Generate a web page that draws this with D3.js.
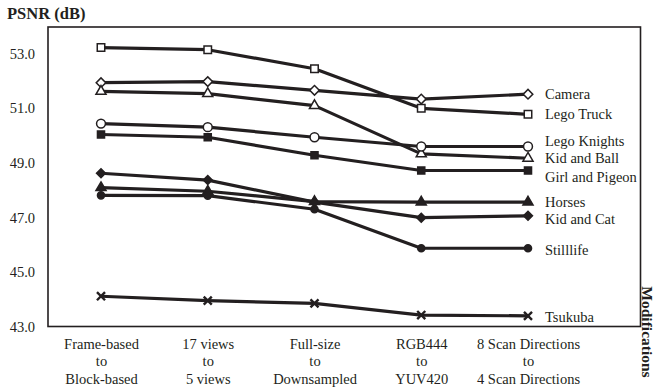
<!DOCTYPE html>
<html><head><meta charset="utf-8">
<script src="https://cdn.jsdelivr.net/npm/d3@7"></script>
<style>body{margin:0;background:#fff}svg{display:block}text{font-family:"Liberation Serif","Times New Roman",serif;fill:#231f20}</style>
</head><body><svg id="c" width="654" height="390"></svg>
<script>
const categories = ["Frame-based|to|Block-based","17 views|to|5 views","Full-size|to|Downsampled","RGB444|to|YUV420","8 Scan Directions|to|4 Scan Directions"];
const yTicks = [43, 45, 47, 49, 51, 53];
const seriesNames = ["Lego Truck","Camera","Kid and Ball","Lego Knights","Girl and Pigeon","Kid and Cat","Horses","Stilllife","Tsukuba"];
const legoTruck     = [53.23, 53.15, 52.45, 51.00, 50.78];
const camera        = [51.94, 51.98, 51.66, 51.34, 51.52];
const kidAndBall    = [51.62, 51.54, 51.10, 49.33, 49.17];
const legoKnights   = [50.44, 50.31, 49.94, 49.60, 49.60];
const girlAndPigeon = [50.04, 49.94, 49.28, 48.72, 48.72];
const kidAndCat     = [48.62, 48.37, 47.56, 46.99, 47.06];
const horses        = [48.09, 47.96, 47.58, 47.56, 47.56];
const stilllife     = [47.81, 47.80, 47.30, 45.87, 45.87];
const tsukuba       = [44.11, 43.95, 43.85, 43.42, 43.39];
const seriesValues = [legoTruck, camera, kidAndBall, legoKnights, girlAndPigeon, kidAndCat, horses, stilllife, tsukuba];
// marker style: [shape, filled, size]
const markers = [["square",false,56],["diamond",false,46],["triangle",false,44],["circle",false,62],["square",true,50],["diamond",true,40],["triangle",true,44],["circle",true,40],["times",true,44]];
const labelNudge = [0,0,0,-6,6,3,0,2,1];

const svg = d3.select("#c");
const L=48, T=27, R=640.5, B=326.5;
const y = d3.scaleLinear().domain([43,54]).range([B, B-11*27.27]);
const x = d3.scalePoint().domain(categories).range([101, 528]);

// frame
svg.append("rect").attr("x",L).attr("y",T).attr("width",R-L).attr("height",B-T)
  .attr("fill","none").attr("stroke","#231f20").attr("stroke-width",1.6);

// y axis
const ya = svg.append("g").attr("transform",`translate(${L},0)`)
  .call(d3.axisLeft(y).tickValues(yTicks).tickSize(0).tickPadding(13).tickFormat(d3.format(".1f")));
ya.select(".domain").remove();
ya.selectAll("text").style("font-size","14.5px").attr("fill","#231f20");

// x axis labels
const xa = svg.append("g").attr("transform",`translate(0,${B})`)
  .call(d3.axisBottom(x).tickSize(0).tickFormat(""));
xa.select(".domain").remove();
xa.selectAll(".tick").each(function(d){
  const t = d3.select(this).append("text").attr("text-anchor","middle")
    .style("font-size","14.5px").attr("fill","#231f20");
  d.split("|").forEach((s,i)=>t.append("tspan").attr("x",0).attr("y",22+i*17.6).text(s));
});

// titles
svg.append("text").attr("x",7).attr("y",19).style("font-size","16.5px").style("font-weight","bold").text("PSNR (dB)");
svg.append("text").attr("transform","translate(641.5,332) rotate(90)").attr("text-anchor","middle")
  .style("font-size","15.5px").style("font-weight","bold").text("Modifications");

const line = d3.line().x((d,i)=>x(categories[i])).y(d=>y(d));
const shapeMap = {square:d3.symbolSquare, diamond:d3.symbolSquare, triangle:d3.symbolTriangle, circle:d3.symbolCircle, times:d3.symbolTimes};

seriesValues.forEach((vals,si)=>{
  svg.append("path").datum(vals).attr("d",line).attr("fill","none")
    .attr("stroke","#231f20").attr("stroke-width",3.2).attr("stroke-linejoin","round");
});
seriesValues.forEach((vals,si)=>{
  const [shape, filled, size] = markers[si];
  const sym = d3.symbol().type(shapeMap[shape]).size(size);
  svg.append("g").selectAll("path").data(vals).join("path")
    .attr("d", sym)
    .attr("transform",(d,i)=>`translate(${x(categories[i])},${y(d)})${shape==="diamond"?" rotate(45)":""}`)
    .attr("fill", shape==="times" ? "none" : (filled ? "#231f20" : "#fff"))
    .attr("stroke","#231f20").attr("stroke-width", shape==="times"?2.4:1.5);
  svg.append("text").attr("x",545).attr("y",y(vals[vals.length-1])+labelNudge[si]).attr("dy","0.35em")
    .style("font-size","14.5px").text(seriesNames[si]);
});
</script></body></html>
